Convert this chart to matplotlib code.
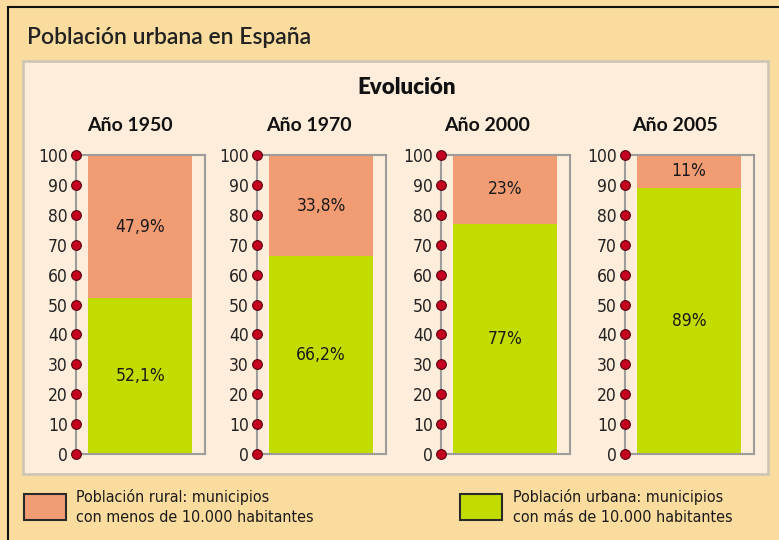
import numpy as np
import matplotlib
matplotlib.use("Agg")
import matplotlib.pyplot as plt
from matplotlib.patches import Rectangle
from matplotlib.lines import Line2D

# data
years = ['Año 1950', 'Año 1970', 'Año 2000', 'Año 2005']
rural = [47.9, 33.8, 23, 11]
urbana = [52.1, 66.2, 77, 89]
rural_labels = ['47,9%', '33,8%', '23%', '11%']
urbana_labels = ['52,1%', '66,2%', '77%', '89%']
yticks = [0, 10, 20, 30, 40, 50, 60, 70, 80, 90, 100]
legend_rural = 'Población rural: municipios\ncon menos de 10.000 habitantes'
legend_urbana = 'Población urbana: municipios\ncon más de 10.000 habitantes'

W, H = 779, 540
c_rural = '#F29C74'
c_urbana = '#C3DC00'
c_outer = '#FADC9E'
c_inner = '#FDEDDA'
c_grey = '#9C9C9C'
c_dot = '#C4001E'

title_font = ['Lato', 'DejaVu Sans']
narrow_font = ['DejaVu Sans']
narrow = dict(family=narrow_font, stretch='condensed')


def fx(x):
    return x / W


def fy(y):
    return 1 - y / H


fig = plt.figure(figsize=(W / 100, H / 100), dpi=100)
fig.patch.set_facecolor(c_outer)

# inner panel
fig.patches.append(Rectangle((fx(23), fy(474)), fx(768) - fx(23), fy(61) - fy(474),
                             transform=fig.transFigure, facecolor=c_inner,
                             edgecolor='#CFC6B4', linewidth=2, zorder=-1))
# outer frame (left and top only)
fig.lines.append(Line2D([fx(8), fx(8)], [0, fy(7)], transform=fig.transFigure, color='#111111', lw=1.5))
fig.lines.append(Line2D([fx(8), 1], [fy(7), fy(7)], transform=fig.transFigure, color='#111111', lw=1.5))

fig.text(fx(27), fy(37), 'Población urbana en España', family=title_font, fontsize=16.5,
         fontweight='semibold', color='#222222', va='center', ha='left')
fig.text(fx(407), fy(88), 'Evolución', family=title_font, fontsize=16, fontweight='heavy',
         color='#111111', va='center', ha='center')

lefts = [76, 257, 441, 625]
title_x = [0.42, 0.40, 0.36, 0.39]
ax_w = 129
top, bottom = 155, 454

for i in range(len(years)):
    ax = fig.add_axes([fx(lefts[i]), fy(bottom), ax_w / W, (bottom - top) / H])
    ax.set_facecolor(c_inner)
    ax.set_xlim(0, 1)
    ax.set_ylim(0, 100)

    bx, bw = 0.095, 0.805
    ax.bar(bx, urbana[i], width=bw, align='edge', color=c_urbana, zorder=2)
    ax.bar(bx, rural[i], bottom=urbana[i], width=bw, align='edge', color=c_rural, zorder=2)

    cx = bx + bw / 2
    ax.text(cx, urbana[i] / 2, urbana_labels[i], ha='center', va='center',
            fontsize=12.5, color='#1a1a1a', zorder=3, **narrow)
    ax.text(cx, urbana[i] + rural[i] / 2, rural_labels[i], ha='center', va='center',
            fontsize=12.5, color='#1a1a1a', zorder=3, **narrow)

    for s in ax.spines.values():
        s.set_color(c_grey)
        s.set_linewidth(1.5)

    ax.plot([0] * len(yticks), yticks, 'o', color=c_dot, markeredgecolor='#5a0010',
            markersize=7, markeredgewidth=0.8, clip_on=False, zorder=5)

    ax.set_xticks([])
    ax.set_yticks(yticks)
    ax.set_yticklabels([str(t) for t in yticks], fontsize=12.5, color='#222222', **narrow)
    ax.tick_params(axis='y', length=0, pad=6)

    ax.set_title(years[i], family=title_font, fontsize=14, fontweight='bold',
                 color='#111111', x=title_x[i], pad=17)

# legend
fig.patches.append(Rectangle((fx(24), fy(520)), fx(66) - fx(24), fy(494) - fy(520),
                             transform=fig.transFigure, facecolor=c_rural,
                             edgecolor='#2a2a2a', linewidth=1.5))
fig.text(fx(76), fy(507), legend_rural, fontsize=11.5, color='#1a1a1a',
         va='center', ha='left', linespacing=1.35, **narrow)
fig.patches.append(Rectangle((fx(460), fy(520)), fx(502) - fx(460), fy(494) - fy(520),
                             transform=fig.transFigure, facecolor=c_urbana,
                             edgecolor='#2a2a2a', linewidth=1.5))
fig.text(fx(513), fy(507), legend_urbana, fontsize=11.5, color='#1a1a1a',
         va='center', ha='left', linespacing=1.35, **narrow)

plt.savefig('out.png', dpi=100, facecolor=fig.get_facecolor())
